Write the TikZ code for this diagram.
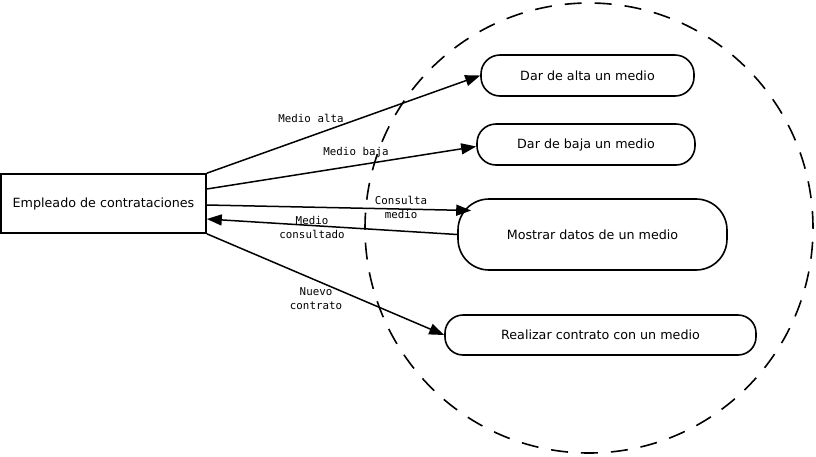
\documentclass[tikz,border=0pt]{standalone}
\usepackage{fontspec}
\setmainfont{DejaVu Sans}
\newfontfamily\monof{DejaVu Sans Mono}
\usetikzlibrary{arrows.meta}
\begin{document}
\begin{tikzpicture}[x=1pt,y=-1pt,
  actor/.style={draw, line width=1.6pt, minimum width=205pt, minimum height=59pt, inner sep=0pt, font=\fontsize{12.7}{15}\selectfont},
  usecase/.style={draw, line width=1.6pt, rounded corners=#1, inner sep=0pt, font=\fontsize{12.7}{15}\selectfont},
  conn/.style={line width=1.5pt, -{Triangle[length=15pt,width=11pt]}},
  lbl/.style={font=\monof\fontsize{10.8}{14}\selectfont, align=center, inner sep=0pt},
  boundary/.style={line width=1.6pt, dash pattern=on 17pt off 13pt}]
\useasboundingbox (0,0) rectangle (816,456);
\draw[boundary] (589,228) circle[x radius=224pt, y radius=225pt];
\node[actor] (emp) at (103.5,203.5) {Empleado de contrataciones};
\node[usecase=19pt, minimum width=213pt, minimum height=41pt] (uc1) at (587.5,75.5) {Dar de alta un medio};
\node[usecase=19pt, minimum width=218pt, minimum height=41pt] (uc2) at (586,144.5) {Dar de baja un medio};
\node[usecase=31pt, minimum width=269pt, minimum height=71pt] (uc3) at (592.5,234.5) {Mostrar datos de un medio};
\node[usecase=18pt, minimum width=311pt, minimum height=40pt] (uc4) at (600.5,335) {Realizar contrato con un medio};
\node[lbl] (l1) at (311,118) {Medio alta};
\node[lbl] (l2) at (356,153) {Medio baja};
\node[lbl] (l3) at (401,207) {Consulta\\medio};
\node[lbl] (l4) at (312,227) {Medio\\consultado};
\node[lbl] (l5) at (316,299) {Nuevo\\contrato};
\draw[conn] (emp.north east) -- (uc1.west);
\draw[conn] ([yshift=14.5pt]emp.east) -- ([yshift=-2pt]uc2.west);
\draw[conn] ([yshift=-1.5pt]emp.east) -- ([shift={(14pt,24pt)}]uc3.west);
\draw[conn] (uc3.west) -- ([yshift=-15.5pt]emp.east);
\draw[conn] (emp.south east) -- (uc4.west);
\end{tikzpicture}
\end{document}
